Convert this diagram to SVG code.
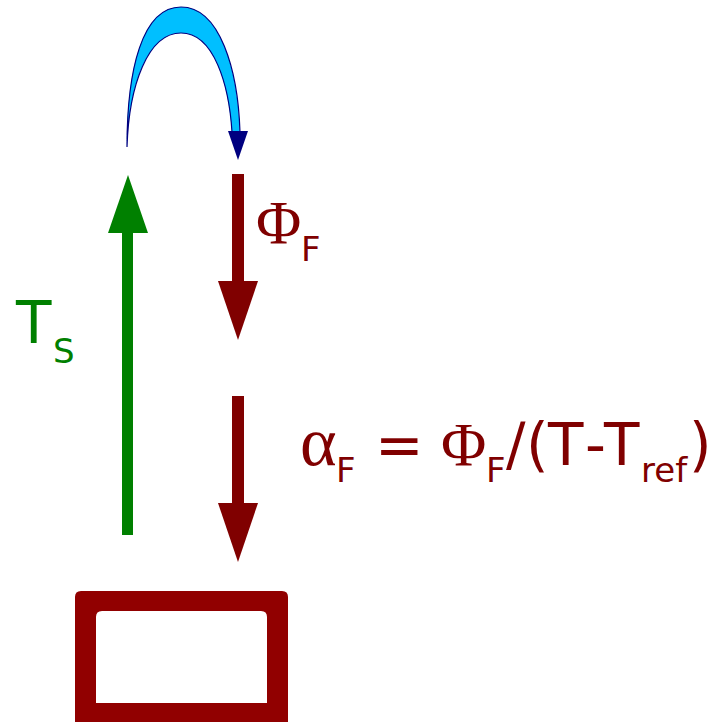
<svg xmlns="http://www.w3.org/2000/svg" width="716" height="722" viewBox="0 0 716 722">
<style>
.sans{font-family:"DejaVu Sans",sans-serif}
.serif{font-family:"Liberation Serif","DejaVu Serif",serif}
.red{fill:#800000}
.green{fill:#008000}
.big{font-size:58px}
.sub{font-size:34px}
.phi{font-size:62px}
</style>
<rect width="716" height="722" fill="#fff"/>
<g id="connectors">
<g id="curved-arrow">
<path d="M127,147 C127,70 142,7 181,7 C220,7 238,70 240,132 L232,132 C229,85 214,33 181,33 C148,33 129,85 127,147 Z" fill="#00bfff" stroke="#000080" stroke-width="1.2"/>
<polygon points="228,131 248,131 238,160" fill="#000080"/>
</g>
<g id="arrow-ts">
<rect x="122" y="230" width="11" height="305" fill="#008000"/>
<polygon points="108,233 148,233 128,175" fill="#008000"/>
</g>
<g id="arrow-phi">
<rect x="232" y="174" width="12" height="110" fill="#800000"/>
<polygon points="218,281 258,281 238,340" fill="#800000"/>
</g>
<g id="arrow-alpha">
<rect x="232" y="396" width="12" height="110" fill="#800000"/>
<polygon points="218,503 258,503 238,562" fill="#800000"/>
</g>
</g>
<g id="box">
<path fill-rule="evenodd" fill="#910000" d="M75,597 Q75,591 81,591 L282,591 Q288,591 288,597 L288,722 L75,722 Z M96,617 Q96,611 102,611 L261,611 Q267,611 267,617 L267,703 L96,703 Z"/>
</g>
<g id="label-ts" class="sans green">
<text x="16" y="343" class="big">T</text>
<text x="53" y="363" class="sub">S</text>
</g>
<g id="label-phi" class="red">
<text x="256" y="243" class="serif phi">Φ</text>
<text x="301" y="261" class="sans sub">F</text>
</g>
<g id="label-alpha" class="red">
<text x="300" y="465" class="serif" font-size="70">α</text>
<text x="336" y="482" class="sans sub">F</text>
<text x="375" y="465" class="sans big">=</text>
<text x="441" y="465" class="serif phi">Φ</text>
<text x="486" y="482" class="sans sub">F</text>
<text y="465" class="sans big" x="506 526 548 585 604">/(T-T</text>
<text x="641" y="482" class="sans sub">ref</text>
<text x="689" y="465" class="sans big">)</text>
</g>
</svg>
